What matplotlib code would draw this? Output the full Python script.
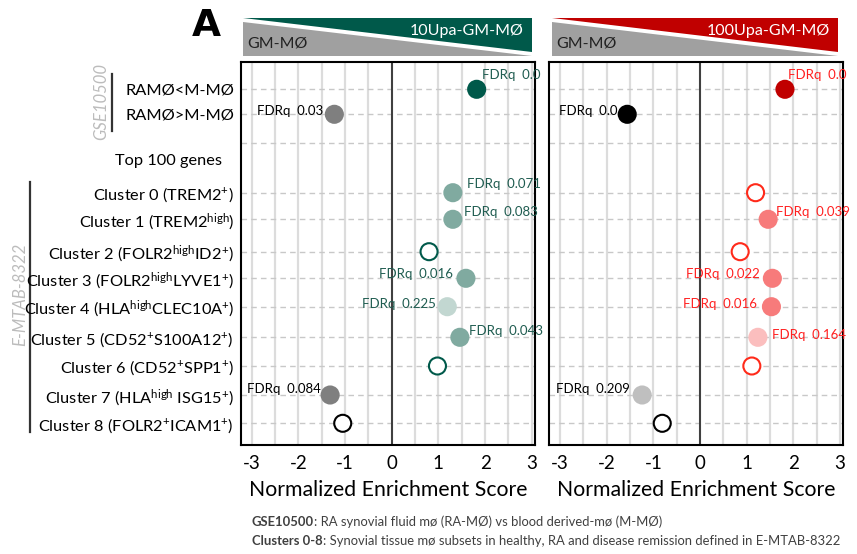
import numpy as np
import matplotlib.pyplot as plt
from matplotlib.patches import Polygon

plt.rcParams['font.family'] = ['Lato', 'DejaVu Sans']
plt.rcParams['mathtext.fontset'] = 'custom'
plt.rcParams['mathtext.rm'] = 'Lato'
plt.rcParams['mathtext.it'] = 'Lato:italic'
plt.rcParams['mathtext.bf'] = 'Lato:bold'

# ---- data ----
rows = ['RAMØ<M-MØ', 'RAMØ>M-MØ',
        r'Cluster 0 (TREM2$^{\mathrm{+}}$)',
        r'Cluster 1 (TREM2$^{\mathrm{high}}$)',
        r'Cluster 2 (FOLR2$^{\mathrm{high}}$ID2$^{\mathrm{+}}$)',
        r'Cluster 3 (FOLR2$^{\mathrm{high}}$LYVE1$^{\mathrm{+}}$)',
        r'Cluster 4 (HLA$^{\mathrm{high}}$CLEC10A$^{\mathrm{+}}$)',
        r'Cluster 5 (CD52$^{\mathrm{+}}$S100A12$^{\mathrm{+}}$)',
        r'Cluster 6 (CD52$^{\mathrm{+}}$SPP1$^{\mathrm{+}}$)',
        r'Cluster 7 (HLA$^{\mathrm{high}}$ ISG15$^{\mathrm{+}}$)',
        r'Cluster 8 (FOLR2$^{\mathrm{+}}$ICAM1$^{\mathrm{+}}$)']
header = 'Top 100 genes'

nes_10 = [1.82, -1.23, 1.31, 1.31, 0.80, 1.59, 1.19, 1.46, 0.98, -1.32, -1.05]
fdr_10 = ['0.0', '0.03', '0.071', '0.083', None, '0.016', '0.225', '0.043', None, '0.084', None]

nes_100 = [1.82, -1.56, 1.19, 1.46, 0.86, 1.55, 1.53, 1.24, 1.11, -1.24, -0.81]
fdr_100 = ['0.0', '0.0', None, '0.039', None, '0.022', '0.016', '0.164', None, '0.209', None]

x_ticks = [-3, -2, -1, 0, 1, 2, 3]

# ---- styles / layout ----
face_10 = ['#00594a', '#7f7f7f', '#80aaa0', '#80aaa0', 'white', '#80aaa0',
           '#c2d7d1', '#80aaa0', 'white', '#7f7f7f', 'white']
edge_10 = ['#00594a', '#7f7f7f', '#80aaa0', '#80aaa0', '#00594a', '#80aaa0',
           '#c2d7d1', '#80aaa0', '#00594a', '#7f7f7f', 'black']
face_100 = ['#c00000', 'black', 'white', '#f77b7b', 'white', '#f77b7b',
            '#f77b7b', '#fbbebe', 'white', '#bfbfbf', 'white']
edge_100 = ['#c00000', 'black', '#ff2a1a', '#f77b7b', '#ff2a1a', '#f77b7b',
            '#f77b7b', '#fbbebe', '#ff2a1a', '#bfbfbf', 'black']
off_10 = [(5, 14), (-11, 3), (14, 9), (11, 7), None, (-13, 4), (-11, 3),
          (9, 6), None, (-9, 6), None]
off_100 = [(3, 14), (-10, 3), None, (8, 7), None, (-13, 4), (-14, 3),
           (14, 2), None, (-12, 6), None]

row_y = [89.3, 114.3, 192.7, 219.3, 251.7, 278.3, 306.7, 337.3, 366, 395, 423.3]
blank_y = 143.3
header_y = 161

W, H = 857, 554
fig = plt.figure(figsize=(W / 100, H / 100), dpi=100)

# overlay axes in pixel coordinates for decorations
ov = fig.add_axes([0, 0, 1, 1], zorder=0)
ov.set_xlim(0, W)
ov.set_ylim(H, 0)
ov.axis('off')


def panel(left_px, nes, fdr, faces, edges, offs, txt_col, show_labels):
    ax = fig.add_axes([left_px / W, (H - 445) / H, 294 / W, 383 / H], zorder=2)
    ax.set_xlim(-3.23, 3.07)
    ax.set_ylim(445, 62)
    for g in np.arange(-3, 3.01, 0.5):
        if g != 0:
            ax.axvline(g, color='#dcdcdc', lw=1.6, zorder=0)
    for y in row_y + [blank_y]:
        ax.axhline(y, color='#c8c8c8', lw=1, ls=(0, (4, 3)), zorder=0)
    ax.axvline(0, color='#404040', lw=1.5, zorder=1)
    ax.scatter(nes, row_y, s=150, c=faces, edgecolors=edges, linewidths=1.5, zorder=3)
    for i in range(len(nes)):
        if fdr[i] is None:
            continue
        dx, dy = offs[i]
        col = 'black' if nes[i] < 0 else txt_col
        ax.annotate('FDRq  ' + fdr[i], (nes[i], row_y[i]), xytext=(dx, dy),
                    textcoords='offset pixels', ha='left' if dx > 0 else 'right',
                    va='center', fontsize=9.5, color=col, zorder=4)
    ax.set_xticks(x_ticks)
    ax.set_xticklabels([str(t) for t in x_ticks], fontsize=13.5)
    ax.tick_params(axis='x', length=0, pad=7)
    ax.set_xlabel('Normalized Enrichment Score', fontsize=15.3, labelpad=6)
    if show_labels:
        ax.set_yticks(row_y)
        ax.set_yticklabels(rows, fontsize=11.8)
        ax.tick_params(axis='y', length=0, pad=5)
        ax.text(-0.065, header_y, header, transform=ax.get_yaxis_transform(),
                ha='right', va='center', fontsize=11.8)
    else:
        ax.set_yticks([])
    for s in ax.spines.values():
        s.set_linewidth(1.5)
        s.set_color('black')
    return ax


panel(241, nes_10, fdr_10, face_10, edge_10, off_10, '#1f5c50', True)
panel(549.3, nes_100, fdr_100, face_100, edge_100, off_100, '#ff2020', False)

# banners
for x0, x1, col, label in [(243, 532, '#00594a', '10Upa-GM-MØ'),
                           (552, 838, '#c00000', '100Upa-GM-MØ')]:
    ov.add_patch(Polygon([(x0, 18), (x1, 18), (x1, 52)], closed=True, fc=col, ec='none'))
    ov.add_patch(Polygon([(x0, 22), (x0, 56), (x1, 56)], closed=True, fc='#a0a0a0', ec='none'))
    ov.text(x1 - 8, 31, label, ha='right', va='center', color='white', fontsize=11.5)
    ov.text(x0 + 4, 43, 'GM-MØ', ha='left', va='center', color='#222222', fontsize=11.5)

ov.text(206, 26, 'A', ha='center', va='center', fontsize=27, fontweight='bold',
        family='DejaVu Sans')

# bracket labels
ov.plot([112, 112], [74, 131], color='#333333', lw=1.6)
ov.text(101, 102, 'GSE10500', rotation=90, ha='center', va='center', fontsize=12,
        style='italic', color='#bcbcbc')
ov.plot([30, 30], [182, 432], color='#333333', lw=1.6)
ov.text(20, 294, 'E-MTAB-8322', rotation=90, ha='center', va='center', fontsize=12,
        style='italic', color='#bcbcbc')

# footnotes
t1 = ov.text(252, 522, 'GSE10500', ha='left', va='center', fontsize=9.35,
             fontweight='bold', color='#404040')
ov.annotate(': RA synovial fluid mø (RA-MØ) vs blood derived-mø (M-MØ)', xy=(1, 0.5),
            xycoords=t1, ha='left', va='center', fontsize=9.35, color='#404040')
t2 = ov.text(252, 541, 'Clusters 0-8', ha='left', va='center', fontsize=9.35,
             fontweight='bold', color='#404040')
ov.annotate(': Synovial tissue mø subsets in healthy, RA and disease remission defined in E-MTAB-8322',
            xy=(1, 0.5), xycoords=t2, ha='left', va='center', fontsize=9.35, color='#404040')

fig.savefig('out.png', dpi=100)
